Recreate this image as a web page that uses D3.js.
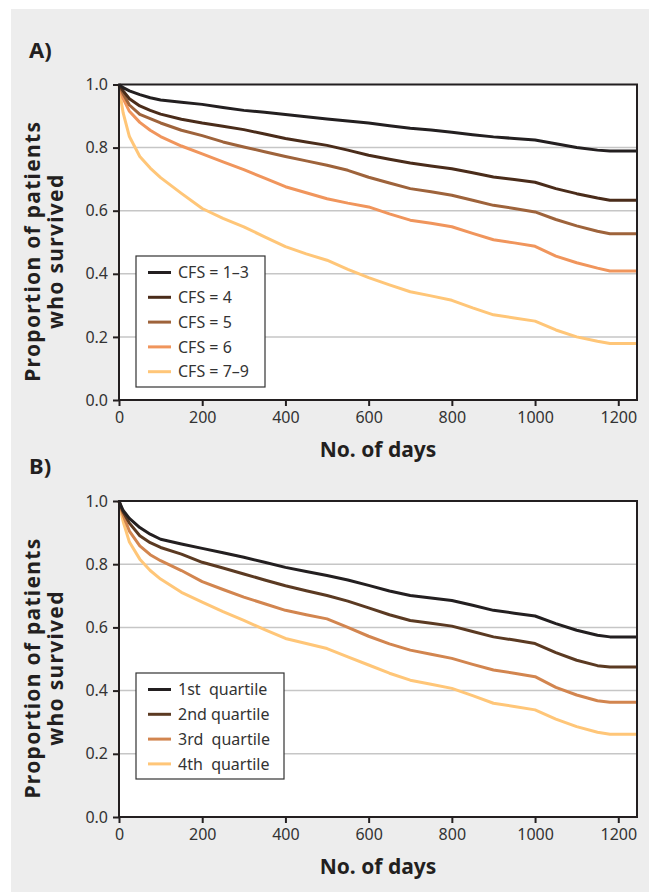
<!DOCTYPE html>
<html>
<head>
<meta charset="utf-8">
<script src="https://cdn.jsdelivr.net/npm/d3@7"></script>
<style>
  body { margin: 0; background: #fff; }
  svg text { font-family: "Noto Sans", sans-serif; }
</style>
</head>
<body>
<svg id="chart"></svg>
<script>
var days = [0,5,10,25,50,75,100,150,200,250,300,350,400,450,500,550,600,650,700,750,800,850,900,950,1000,1050,1100,1150,1180,1245];

// panel A - Clinical Frailty Scale groups
var cfsLabels = ["CFS = 1\u20133", "CFS = 4", "CFS = 5", "CFS = 6", "CFS = 7\u20139"];
var cfs13 = [1,0.995,0.99,0.98,0.968,0.958,0.951,0.944,0.937,0.927,0.918,0.912,0.905,0.898,0.891,0.884,0.878,0.869,0.861,0.856,0.849,0.841,0.834,0.829,0.824,0.812,0.800,0.792,0.789,0.789];
var cfs4  = [1,0.99,0.98,0.955,0.932,0.918,0.906,0.89,0.878,0.868,0.857,0.843,0.829,0.818,0.807,0.792,0.776,0.763,0.751,0.742,0.733,0.720,0.707,0.699,0.690,0.670,0.654,0.640,0.633,0.633];
var cfs5  = [1,0.985,0.97,0.935,0.905,0.892,0.878,0.855,0.838,0.818,0.802,0.787,0.772,0.758,0.744,0.728,0.706,0.688,0.670,0.660,0.649,0.633,0.617,0.607,0.596,0.572,0.552,0.535,0.527,0.527];
var cfs6  = [1,0.975,0.955,0.915,0.88,0.855,0.835,0.805,0.78,0.755,0.730,0.703,0.676,0.657,0.638,0.624,0.612,0.590,0.570,0.560,0.549,0.528,0.508,0.498,0.487,0.456,0.435,0.418,0.409,0.409];
var cfs79 = [1,0.95,0.91,0.835,0.772,0.735,0.705,0.655,0.607,0.576,0.549,0.517,0.486,0.463,0.443,0.414,0.388,0.365,0.343,0.330,0.316,0.292,0.270,0.260,0.250,0.222,0.200,0.186,0.179,0.179];

// panel B - quartiles
var quartLabels = ["1st  quartile", "2nd quartile", "3rd  quartile", "4th  quartile"];
var q1 = [1,0.985,0.97,0.945,0.916,0.895,0.879,0.864,0.85,0.836,0.822,0.806,0.79,0.777,0.764,0.75,0.733,0.715,0.701,0.693,0.685,0.67,0.654,0.645,0.636,0.612,0.591,0.575,0.570,0.570];
var q2 = [1,0.98,0.965,0.93,0.89,0.868,0.853,0.832,0.806,0.788,0.769,0.75,0.732,0.716,0.701,0.683,0.662,0.64,0.622,0.613,0.604,0.587,0.570,0.56,0.549,0.52,0.496,0.479,0.475,0.475];
var q3 = [1,0.975,0.955,0.905,0.858,0.83,0.811,0.78,0.745,0.72,0.696,0.675,0.654,0.64,0.627,0.60,0.572,0.548,0.528,0.515,0.502,0.483,0.465,0.455,0.444,0.41,0.386,0.368,0.363,0.363];
var q4 = [1,0.965,0.935,0.87,0.816,0.78,0.753,0.711,0.68,0.65,0.622,0.593,0.565,0.549,0.533,0.507,0.481,0.455,0.433,0.42,0.407,0.384,0.36,0.35,0.339,0.31,0.286,0.268,0.262,0.262];

var xTicks = [0,200,400,600,800,1000,1200];
var yTicks = [0,0.2,0.4,0.6,0.8,1.0];

var width = 649, height = 892;
var svg = d3.select("#chart").attr("width", width).attr("height", height);

// grey page background
svg.append("rect").attr("x", 11).attr("y", 9)
    .attr("width", width - 11).attr("height", height - 9)
    .attr("fill", "#ededed");

function drawPanel(tag, top, bottom, series, labels, colors, legendBox){
    var left = 119, right = 637;

    var xScale = d3.scaleLinear().domain([0, 1245]).range([left, right]);
    var yScale = d3.scaleLinear().domain([0, 1]).range([bottom, top]);

    var g = svg.append("g");

    g.append("rect")
        .attr("x", left).attr("y", top)
        .attr("width", right - left).attr("height", bottom - top)
        .attr("fill", "#fff");

    // grid lines
    g.selectAll(".grid").data(yTicks.filter(function(d){ return d > 0 && d < 1; }))
        .enter().append("line")
        .attr("x1", left).attr("x2", right)
        .attr("y1", function(d){ return yScale(d); })
        .attr("y2", function(d){ return yScale(d); })
        .attr("stroke", "#c6c6c6").attr("stroke-width", 1.5);

    // curves, lightest first so the black one ends on top
    var line = d3.line()
        .x(function(d){ return xScale(d[0]); })
        .y(function(d){ return yScale(d[1]); });

    for (var s = series.length - 1; s >= 0; s--){
        var pts = days.map(function(d, i){ return [d, series[s][i]]; });
        g.append("path")
            .attr("d", line(pts))
            .attr("fill", "none")
            .attr("stroke", colors[s])
            .attr("stroke-width", 3)
            .attr("stroke-linejoin", "round");
    }

    // frame
    g.append("rect")
        .attr("x", left).attr("y", top)
        .attr("width", right - left).attr("height", bottom - top)
        .attr("fill", "none").attr("stroke", "#231f20").attr("stroke-width", 2);

    var xAxis = d3.axisBottom(xScale).tickValues(xTicks).tickSize(6).tickPadding(6).tickFormat(d3.format("d"));
    var yAxis = d3.axisLeft(yScale).tickValues(yTicks).tickSize(6).tickPadding(5).tickFormat(d3.format(".1f"));

    var gx = g.append("g").attr("transform", "translate(0," + bottom + ")").call(xAxis);
    var gy = g.append("g").attr("transform", "translate(" + left + ",0)").call(yAxis);
    [gx, gy].forEach(function(a){
        a.select(".domain").remove();
        a.selectAll(".tick line").attr("stroke", "#231f20").attr("stroke-width", 2);
        a.selectAll(".tick text").attr("fill", "#333").style("font-size", "16px")
            .style("font-family", "'Noto Sans', sans-serif");
    });

    // axis titles
    g.append("text")
        .attr("x", (left + right) / 2).attr("y", bottom + 57)
        .attr("text-anchor", "middle")
        .style("font-size", "21px").style("font-weight", "bold").attr("fill", "#231f20")
        .text("No. of days");

    var cy = (top + bottom) / 2 + 9;
    var yTitle = g.append("text")
        .attr("transform", "translate(0," + cy + ") rotate(-90)")
        .attr("text-anchor", "middle")
        .style("font-size", "21px").style("font-weight", "bold")
        .style("letter-spacing", "1.3px").attr("fill", "#231f20");
    yTitle.append("tspan").attr("x", 0).attr("y", 40).text("Proportion of patients");
    yTitle.append("tspan").attr("x", 0).attr("y", 63).text("who survived");

    // panel tag
    g.append("text")
        .attr("x", 29).attr("y", top - 27)
        .style("font-size", "22px").style("font-weight", "bold").attr("fill", "#231f20")
        .text(tag);

    // legend
    var lg = g.append("g");
    lg.append("rect")
        .attr("x", legendBox.x).attr("y", legendBox.y)
        .attr("width", legendBox.w).attr("height", legendBox.h)
        .attr("fill", "#fff").attr("stroke", "#333").attr("stroke-width", 1.2);

    labels.forEach(function(lab, i){
        var ry = legendBox.y + 16.5 + i * 24.8;
        lg.append("line")
            .attr("x1", legendBox.x + 12).attr("x2", legendBox.x + 35)
            .attr("y1", ry).attr("y2", ry)
            .attr("stroke", colors[i]).attr("stroke-width", 3);
        lg.append("text")
            .attr("x", legendBox.x + 42).attr("y", ry)
            .attr("dy", "0.35em")
            .attr("xml:space", "preserve")
            .style("white-space", "pre")
            .style("font-size", "16px").attr("fill", "#333")
            .text(lab);
    });
}

drawPanel("A)", 84.5, 400, [cfs13, cfs4, cfs5, cfs6, cfs79], cfsLabels,
    ["#231f20", "#4a2c1a", "#9e633b", "#f0955c", "#ffc678"],
    {x: 136, y: 256, w: 129, h: 131});

drawPanel("B)", 501, 817, [q1, q2, q3, q4], quartLabels,
    ["#231f20", "#5b3a22", "#d2854f", "#ffc678"],
    {x: 136, y: 673, w: 148, h: 106});
</script>
</body>
</html>
